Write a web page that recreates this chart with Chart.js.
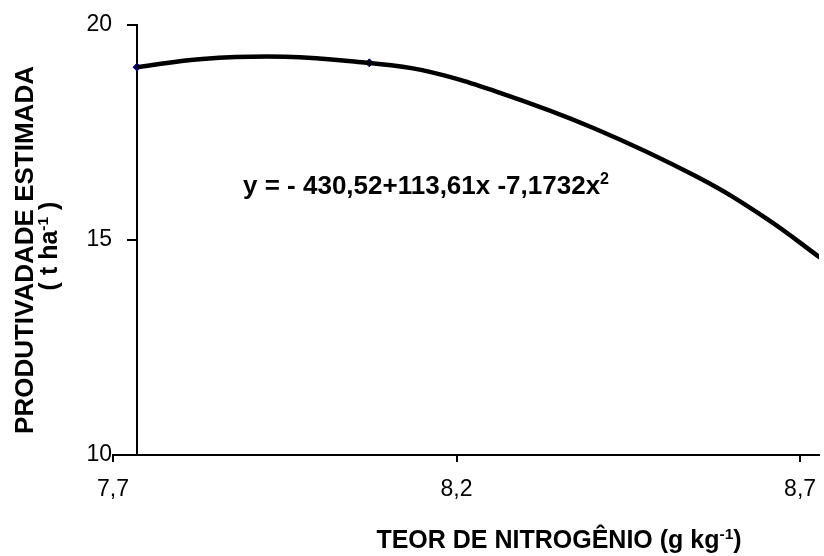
<!DOCTYPE html>
<html>
<head>
<meta charset="utf-8">
<script src="https://cdn.jsdelivr.net/npm/chart.js@4.4.1/dist/chart.umd.min.js"></script>
<style>
  html, body { margin: 0; padding: 0; background: #fff; }
  #wrap { width: 824px; height: 556px; }
</style>
</head>
<body>
<div id="wrap"><canvas id="chart"></canvas></div>
<script>
// fitted curve
const curveX = [7.735, 7.83, 7.95, 8.07, 8.15, 8.26, 8.40, 8.55, 8.65, 8.73];
const curveY = [19.02, 19.21, 19.26, 19.12, 18.95, 18.44, 17.60, 16.47, 15.51, 14.58];

// the two marked points on the curve
const pointX = [7.735, 8.073];
const pointY = [19.02, 19.12];

const xTicks = [7.7, 8.2, 8.7];
const xTickLabels = ["7,7", "8,2", "8,7"];
const yTicks = [10, 15, 20];

// the vertical axis crosses a little right of 7,7
const yAxisAt = 7.735;

const FONT = '"Liberation Sans", Arial, sans-serif';

function toXY(xs, ys) {
  return xs.map(function (v, i) { return { x: v, y: ys[i] }; });
}

// draw a run of text pieces, some of them raised as superscripts
function drawParts(ctx, parts, x, y, size, weight, align) {
  let total = 0;
  parts.forEach(function (p) {
    ctx.font = weight + " " + (p.sup ? size * 0.62 : size) + "px " + FONT;
    p.w = ctx.measureText(p.t).width;
    total += p.w;
  });
  let cx = align === "center" ? x - total / 2 : x;
  parts.forEach(function (p) {
    ctx.font = weight + " " + (p.sup ? size * 0.62 : size) + "px " + FONT;
    ctx.fillText(p.t, cx, p.sup ? y - size * 0.38 : y);
    cx += p.w;
  });
}

const textPlugin = {
  id: "texts",
  afterDraw(chart) {
    const ctx = chart.ctx;
    ctx.save();
    ctx.fillStyle = "#000";
    ctx.textAlign = "left";
    ctx.textBaseline = "alphabetic";

    // regression equation
    drawParts(ctx, [{ t: "y = - 430,52+113,61x -7,1732x" }, { t: "2", sup: true }],
      243, 194, 26, "bold", "left");

    // x axis title
    drawParts(ctx, [{ t: "TEOR DE NITROGÊNIO (g kg" }, { t: "-1", sup: true }, { t: ")" }],
      559, 548, 25, "bold", "center");

    // y axis title, two lines
    ctx.translate(33, 250);
    ctx.rotate(-Math.PI / 2);
    drawParts(ctx, [{ t: "PRODUTIVADADE ESTIMADA" }], 0, 0, 26, "bold", "center");
    ctx.restore();
    ctx.save();
    ctx.fillStyle = "#000";
    ctx.translate(57, 246);
    ctx.rotate(-Math.PI / 2);
    drawParts(ctx, [{ t: "( t ha" }, { t: "-1", sup: true }, { t: " )" }], 0, 0, 25, "bold", "center");
    ctx.restore();
  }
};

new Chart(document.getElementById("chart"), {
  type: "line",
  data: {
    datasets: [
      {
        data: toXY(curveX, curveY),
        borderColor: "#000",
        borderWidth: 4.5,
        pointRadius: 0,
        tension: 0.4,
        fill: false,
      },
      {
        data: toXY(pointX, pointY),
        showLine: false,
        pointStyle: "rectRot",
        pointRadius: 4,
        backgroundColor: "#000080",
        borderColor: "#000080",
      },
    ],
  },
  options: {
    responsive: true,
    maintainAspectRatio: false,
    animation: false,
    layout: { padding: { left: 0, top: 25, right: 0, bottom: 0 } },
    plugins: {
      legend: { display: false },
      tooltip: { enabled: false },
    },
    scales: {
      x: {
        type: "linear",
        min: 7.7,
        max: 8.7275,
        afterBuildTicks: function (s) {
          s.ticks = xTicks.map(function (v) { return { value: v }; });
        },
        afterFit: function (s) {
          s.height = 101;
          s.paddingLeft = 0;
          s.paddingRight = 0;
        },
        ticks: {
          callback: function (v) { return xTickLabels[xTicks.indexOf(v)]; },
          color: "#000",
          font: { family: FONT, size: 23 },
          padding: 14,
          maxRotation: 0,
        },
        grid: { drawOnChartArea: false, tickLength: 7, color: "#000", lineWidth: 2 },
        border: { color: "#000", width: 2 },
      },
      // labels only, kept in the left margin
      y: {
        min: 10,
        max: 20,
        position: "left",
        afterBuildTicks: function (s) {
          s.ticks = yTicks.map(function (v) { return { value: v }; });
        },
        afterFit: function (s) { s.width = 113; },
        ticks: {
          color: "#000",
          font: { family: FONT, size: 23 },
          padding: 1,
        },
        grid: { display: false, drawTicks: false },
        border: { display: false },
      },
      // the axis line and its tick marks
      yLine: {
        min: 10,
        max: 20,
        position: { x: yAxisAt },
        afterBuildTicks: function (s) {
          s.ticks = yTicks.map(function (v) { return { value: v }; });
        },
        ticks: { display: false },
        grid: { drawOnChartArea: false, tickLength: 9, color: "#000", lineWidth: 2 },
        border: { color: "#000", width: 2 },
      },
    },
  },
  plugins: [textPlugin],
});
</script>
</body>
</html>
